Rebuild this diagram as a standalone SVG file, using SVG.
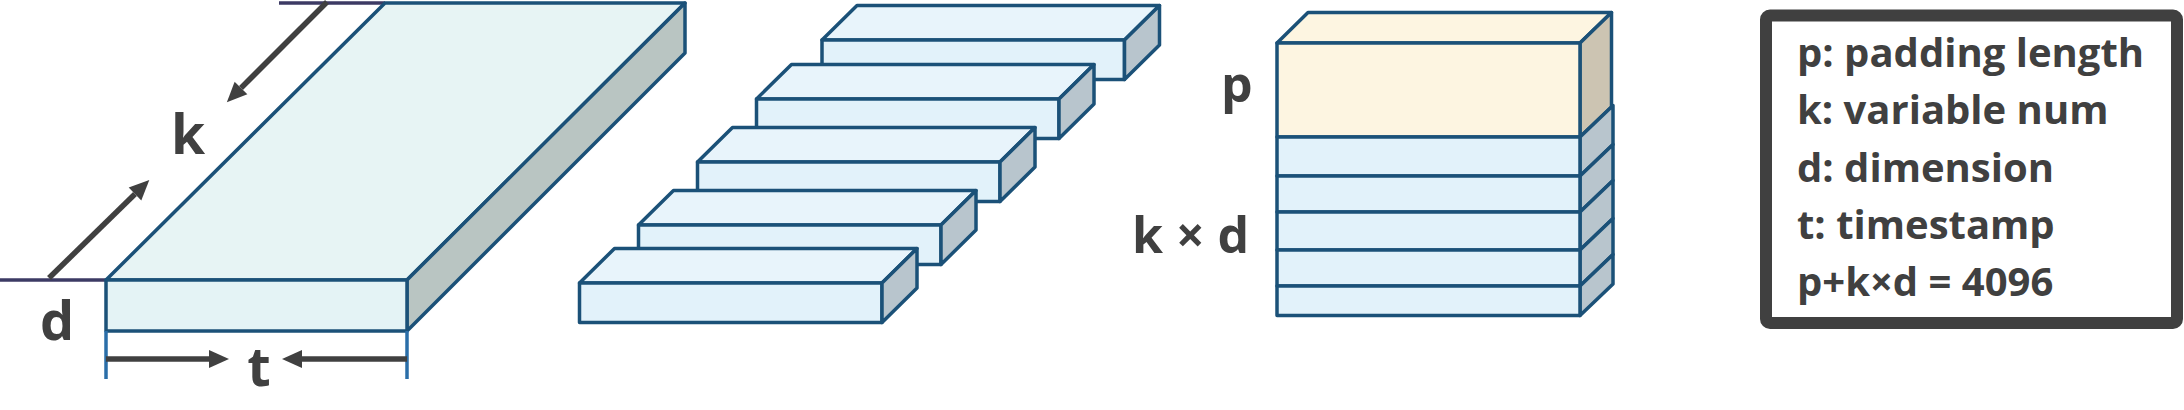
<svg xmlns="http://www.w3.org/2000/svg" width="2184" height="410" viewBox="0 0 2184 410">
<style>
.edge{stroke:#1b5178;stroke-width:3.5;stroke-linejoin:round}
.slabtop{fill:#e7f4f4}
.slabfront{fill:#e4f3f5}
.slabside{fill:#b9c5c2}
.btop{fill:#e8f4fb}
.bfront{fill:#e2f2fa}
.bside{fill:#b8c5cd}
.ytop{fill:#fdf5e1}
.yside{fill:#ccc4b2}
.guide{stroke:#3c3a64;stroke-width:3.5}
.tick{stroke:#2a6ea8;stroke-width:3.5}
.arr{stroke:#404040;stroke-width:5.5;fill:none}
.lbl{font-family:"Open Sans","Liberation Sans",sans-serif;font-weight:700;fill:#404040}
</style>
<defs>
<marker id="ah" markerUnits="userSpaceOnUse" markerWidth="22" markerHeight="20" refX="0" refY="9" orient="auto" overflow="visible">
<path d="M0,0 L20,9 L0,18 Z" fill="#404040"/>
</marker>
<g id="bar">
<path class="edge btop" d="M0,0 L35,-34.5 L337.5,-34.5 L302.5,0 Z"/>
<rect class="edge bfront" x="0" y="0" width="302.5" height="39.5"/>
<path class="edge bside" d="M302.5,0 L337.5,-34.5 L337.5,5 L302.5,39.5 Z"/>
</g>
</defs>

<g id="slab">
<line class="guide" x1="279" y1="3" x2="385" y2="3"/>
<line class="guide" x1="0" y1="280" x2="106" y2="280"/>
<path class="edge slabtop" d="M106,280 L385,3 L685,3 L407,280 Z"/>
<path class="edge slabside" d="M407,280 L685,3 L685,53 L407,331 Z"/>
<rect class="edge slabfront" x="106" y="280" width="301" height="51"/>
<line class="tick" x1="106" y1="331" x2="106" y2="379"/>
<line class="tick" x1="407" y1="331" x2="407" y2="379"/>
<text class="lbl" x="171" y="154" font-size="55">k</text>
<text class="lbl" x="40" y="340" font-size="54">d</text>
<text class="lbl" x="259" y="386" font-size="54" text-anchor="middle">t</text>
</g>

<g id="bars">
<use href="#bar" x="822" y="40"/>
<use href="#bar" x="756.5" y="99"/>
<use href="#bar" x="697.5" y="162"/>
<use href="#bar" x="638.5" y="225"/>
<use href="#bar" x="579.5" y="283"/>
</g>

<g id="stack">
<path class="edge ytop" d="M1277,43 L1308,12.5 L1611.5,12.5 L1580,43 Z"/>
<path class="edge yside" d="M1580,43 L1611.5,12.5 L1611.5,107 L1580,137 Z"/>
<rect class="edge ytop" x="1277" y="43" width="303" height="94"/>
<path class="edge bside" d="M1580,137 L1613,105.5 L1613,144.5 L1580,176 Z"/>
<path class="edge bside" d="M1580,176 L1613,144.5 L1613,180.5 L1580,212 Z"/>
<path class="edge bside" d="M1580,212 L1613,180.5 L1613,218.5 L1580,250 Z"/>
<path class="edge bside" d="M1580,250 L1613,218.5 L1613,254.5 L1580,286 Z"/>
<path class="edge bside" d="M1580,286 L1613,254.5 L1613,284 L1580,315.5 Z"/>
<rect class="edge bfront" x="1277" y="137" width="303" height="39"/>
<rect class="edge bfront" x="1277" y="176" width="303" height="36"/>
<rect class="edge bfront" x="1277" y="212" width="303" height="38"/>
<rect class="edge bfront" x="1277" y="250" width="303" height="36"/>
<rect class="edge bfront" x="1277" y="286" width="303" height="29.5"/>
<text class="lbl" x="1221" y="102" font-size="50">p</text>
<text class="lbl" x="1132" y="253" font-size="50">k × d</text>
</g>

<g id="legend">
<rect x="1766" y="15.5" width="411" height="307.5" rx="4" fill="#ffffff" stroke="#404040" stroke-width="12"/>
<text class="lbl" x="1797" y="67" font-size="40">p: padding length</text>
<text class="lbl" x="1797" y="124.3" font-size="40">k: variable num</text>
<text class="lbl" x="1797" y="181.5" font-size="40">d: dimension</text>
<text class="lbl" x="1797" y="238.8" font-size="40">t: timestamp</text>
<text class="lbl" x="1797" y="296" font-size="40">p+k×d = 4096</text>
</g>

<g id="connectors">
<line class="arr" x1="327" y1="2" x2="241" y2="88" marker-end="url(#ah)"/>
<line class="arr" x1="49" y1="278" x2="135" y2="194" marker-end="url(#ah)"/>
<line class="arr" x1="106" y1="359" x2="209" y2="359" marker-end="url(#ah)"/>
<line class="arr" x1="407" y1="359" x2="302" y2="359" marker-end="url(#ah)"/>
</g>
</svg>
